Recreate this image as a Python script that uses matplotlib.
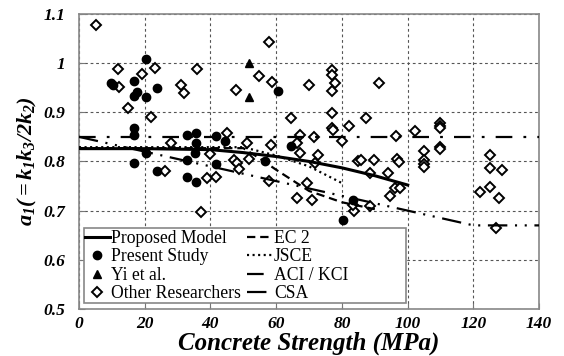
import matplotlib
matplotlib.use("Agg")
import matplotlib.pyplot as plt
from matplotlib.patches import Rectangle
from matplotlib.ticker import FuncFormatter, MultipleLocator

plt.rcParams['font.family'] = ['Liberation Serif', 'DejaVu Serif']
plt.rcParams['mathtext.fontset'] = 'custom'
plt.rcParams['mathtext.it'] = 'Liberation Serif:bold:italic'
plt.rcParams['mathtext.rm'] = 'Liberation Serif:bold:italic'
plt.rcParams['mathtext.bf'] = 'Liberation Serif:bold:italic'
plt.rcParams['lines.scale_dashes'] = False

# Present study (filled circles)
present_fc = [20.3, 16.7, 9.8, 10.4, 23.6, 17.6, 16.7, 20.3, 60.5, 16.7, 16.7, 33.0, 35.5, 35.5,
              41.7, 44.4, 64.4, 20.3, 35.3, 16.7, 33.0, 41.7, 56.6, 23.6, 32.8, 35.5, 83.3, 80.2]
present_a1 = [1.008, 0.964, 0.960, 0.955, 0.950, 0.941, 0.933, 0.931, 0.943, 0.868, 0.854, 0.854, 0.857, 0.838,
              0.852, 0.842, 0.832, 0.817, 0.817, 0.796, 0.803, 0.795, 0.800, 0.781, 0.768, 0.758, 0.722, 0.681]

# Yi et al. (triangles)
yi_fc = [51.8, 51.8]
yi_a1 = [1.000, 0.931]

# Other researchers (open diamonds)
other_fc = [5.1, 12.0, 19.1, 23.1, 35.8, 12.2, 30.9, 32.0, 47.8, 15.0, 21.8,
            57.8, 54.9, 58.8, 69.9, 76.9, 76.9, 78.0, 76.9, 91.4, 64.5, 76.9, 82.0, 87.3, 76.9, 77.4,
            80.0, 71.5, 96.5, 102.3, 109.9, 109.9, 109.9, 109.9, 109.9, 105.0, 105.0, 105.0, 105.0,
            124.9, 124.9, 128.6, 122.0, 124.9, 127.8, 126.8,
            67.3, 67.3, 72.8, 85.0, 85.8, 89.8, 96.7, 97.5, 88.6, 94.1, 94.6, 96.0, 97.7, 88.6, 83.8,
            83.5, 70.8, 69.3,
            45.0, 51.0, 58.3, 66.3, 71.8, 40.0, 47.3, 48.2, 48.8, 51.8, 57.9, 38.9, 41.7, 37.0, 66.4,
            27.9, 26.2]
other_a1 = [1.078, 0.987, 0.978, 0.990, 0.987, 0.951, 0.955, 0.939, 0.945, 0.908, 0.890,
            1.043, 0.974, 0.962, 0.956, 0.986, 0.975, 0.960, 0.943, 0.960, 0.889, 0.899, 0.873, 0.889, 0.868, 0.864,
            0.842, 0.850, 0.852, 0.861, 0.879, 0.873, 0.868, 0.830, 0.826, 0.822, 0.803, 0.795, 0.789,
            0.813, 0.786, 0.783, 0.737, 0.748, 0.725, 0.664,
            0.854, 0.817, 0.813, 0.800, 0.803, 0.803, 0.804, 0.798, 0.777, 0.777, 0.730, 0.745, 0.747, 0.710, 0.699,
            0.712, 0.722, 0.756,
            0.857, 0.838, 0.834, 0.838, 0.796, 0.815, 0.802, 0.796, 0.784, 0.805, 0.760, 0.766, 0.768, 0.697, 0.725,
            0.837, 0.781]

# Model / code curves
prop_fc = [0, 20, 40, 50, 60, 70, 80, 90, 100]
prop_a1 = [0.826, 0.826, 0.824, 0.818, 0.810, 0.800, 0.787, 0.771, 0.752]

ec2_fc = [0, 50, 55, 60, 70, 80, 90]
ec2_a1 = [0.827, 0.827, 0.806, 0.783, 0.740, 0.717, 0.703]

jsce_fc = [0, 50, 60, 70, 80]
jsce_a1 = [0.829, 0.829, 0.812, 0.790, 0.756]

aci_fc = [0, 140]
aci_a1 = [0.85, 0.85]

csa_fc = [0, 120, 140]
csa_a1 = [0.85, 0.67, 0.67]

fig = plt.figure(figsize=(5.64, 3.56), dpi=100)
ax = fig.add_axes([0.140, 0.132, 0.816, 0.829])

ax.plot(other_fc, other_a1, linestyle='none', marker='D', ms=5, mfc='white', mec='black', mew=1.4,
        label='Other Researchers', zorder=3)
ax.plot(present_fc, present_a1, linestyle='none', marker='o', ms=6, color='black',
        label='Present Study', zorder=3)
ax.plot(yi_fc, yi_a1, linestyle='none', marker='^', ms=6, color='black', label='Yi et al.', zorder=3)

ax.plot(prop_fc, prop_a1, color='black', lw=2.2, label='Proposed Model', zorder=4)
ax.plot(ec2_fc, ec2_a1, color='black', lw=1.6, dashes=(6, 3.5), label='EC 2', zorder=4)
ax.plot(jsce_fc, jsce_a1, color='black', lw=1.6, dashes=(1.5, 2.5), label='JSCE', zorder=4)
ax.plot(aci_fc, aci_a1, color='black', lw=1.6, dashes=(12, 8, 2, 8), label='ACI / KCI', zorder=4)
ax.plot(csa_fc, csa_a1, color='black', lw=1.6, dashes=(14, 5.5, 1.5, 5.5, 1.5, 5.5), label='CSA', zorder=4)

ax.set_xlim(0, 140)
ax.set_ylim(0.5, 1.1)
ax.xaxis.set_major_locator(MultipleLocator(20))
ax.yaxis.set_major_locator(MultipleLocator(0.1))
ax.yaxis.set_major_formatter(FuncFormatter(lambda v, p: '%g' % round(v, 2)))
ax.grid(True, color='#555555', lw=0.8, dashes=(2, 2))
ax.set_axisbelow(True)
ax.tick_params(direction='in', length=4, color='#777777', labelsize=12.5)
ax.tick_params(axis='x', pad=5)
ax.tick_params(axis='y', pad=10)
for lab in ax.get_xticklabels() + ax.get_yticklabels():
    lab.set_fontweight('bold')
    lab.set_fontstyle('italic')
for sp in ax.spines.values():
    sp.set_color('#888888')
    sp.set_linewidth(1.2)

ax.set_xlabel('Concrete Strength (MPa)', fontsize=18, fontweight='bold', fontstyle='italic', labelpad=0)
ax.set_ylabel(r'$a_1(=k_1k_3/2k_2)$', fontsize=16)
ax.yaxis.set_label_coords(-0.086, 0.5)

# legend box drawn as a plain rectangle so its size can be set directly
box = Rectangle((0.011, 0.020), 0.700, 0.254, transform=ax.transAxes, facecolor='white',
                edgecolor='#888888', lw=1.2, zorder=5)
ax.add_patch(box)

handles, labels = ax.get_legend_handles_labels()
order = ['Proposed Model', 'Present Study', 'Yi et al.', 'Other Researchers', 'EC 2', 'JSCE', 'ACI / KCI', 'CSA']
h = [handles[labels.index(o)] for o in order]
leg = ax.legend(h, order, ncol=2, loc='upper left', bbox_to_anchor=(0.013, 0.268), fontsize=12.7,
                frameon=False, handlelength=1.4, handletextpad=0.1, columnspacing=0.35,
                labelspacing=0.08, borderpad=0.0, borderaxespad=0.0)
leg.set_zorder(6)

fig.savefig('out.png', dpi=100)
